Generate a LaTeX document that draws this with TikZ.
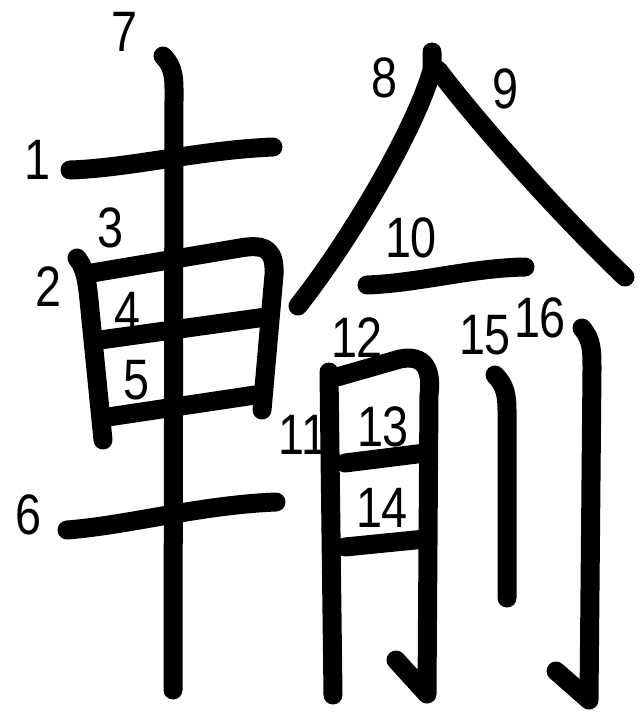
\documentclass[tikz,border=0pt]{standalone}
\usepackage{fontspec}
\setmainfont{Liberation Sans}
\begin{document}
\begin{tikzpicture}[x=1pt,y=-1pt,
  strk/.style={line width=19pt,line cap=round,line join=round,black},
  num/.style={font=\fontsize{57}{57}\selectfont,xscale=0.82,inner sep=0pt,anchor=center}]
\useasboundingbox[fill=white] (0,0) rectangle (641,721);
% labels
\node[num] (l1) at (37,160) {1};
\node[num] (l2) at (48,287) {2};
\node[num] (l3) at (110,228) {3};
\node[num] (l4) at (127,312) {4};
\node[num] (l5) at (136,380) {5};
\node[num] (l6) at (28,515) {6};
\node[num] (l7) at (124,32) {7};
\node[num] (l8) at (384,78) {8};
\node[num] (l9) at (505,89) {9};
\node[num] (l10) at (411,238) {10};
\node[num] (l11) at (303,435) {11};
\node[num] (l12) at (357,338) {12};
\node[num] (l13) at (383,427) {13};
\node[num] (l14) at (382,508) {14};
\node[num] (l15) at (485,335) {15};
\node[num] (l16) at (540,318) {16};
% strokes
\draw[strk] (70,170) .. controls (130,168) and (200,150) .. (273,147);
\draw[strk] (77,258) .. controls (85,268) and (87,280) .. (89,300) -- (103,440);
\draw[strk] (92,273) -- (240,248) .. controls (268,243) and (275,252) .. (274,275) -- (262,410);
\draw[strk] (100,340) -- (266,317);
\draw[strk] (108,417) -- (255,395);
\draw[strk] (67,530) .. controls (130,525) and (200,505) .. (276,502);
\draw[strk] (163,56) .. controls (175,68) and (174,80) .. (174,100) -- (173,690);
\draw[strk] (432,52) -- (432,70) .. controls (415,130) and (350,240) .. (298,306);
\draw[strk] (438,70) .. controls (480,125) and (555,210) .. (625,277);
\draw[strk] (367,285) .. controls (420,283) and (470,268) .. (525,267);
\draw[strk] (329,372) -- (333,695);
\draw[strk] (337,377) -- (400,359) .. controls (425,354) and (432,370) .. (429,395) -- (427,694) -- (396,660);
\draw[strk] (345,463) -- (425,453);
\draw[strk] (345,547) -- (425,539);
\draw[strk] (495,375) .. controls (505,385) and (507,395) .. (507,410) -- (507,598);
\draw[strk] (582,328) .. controls (592,340) and (592,350) .. (592,370) -- (589,700) -- (556,671);
\end{tikzpicture}
\end{document}
